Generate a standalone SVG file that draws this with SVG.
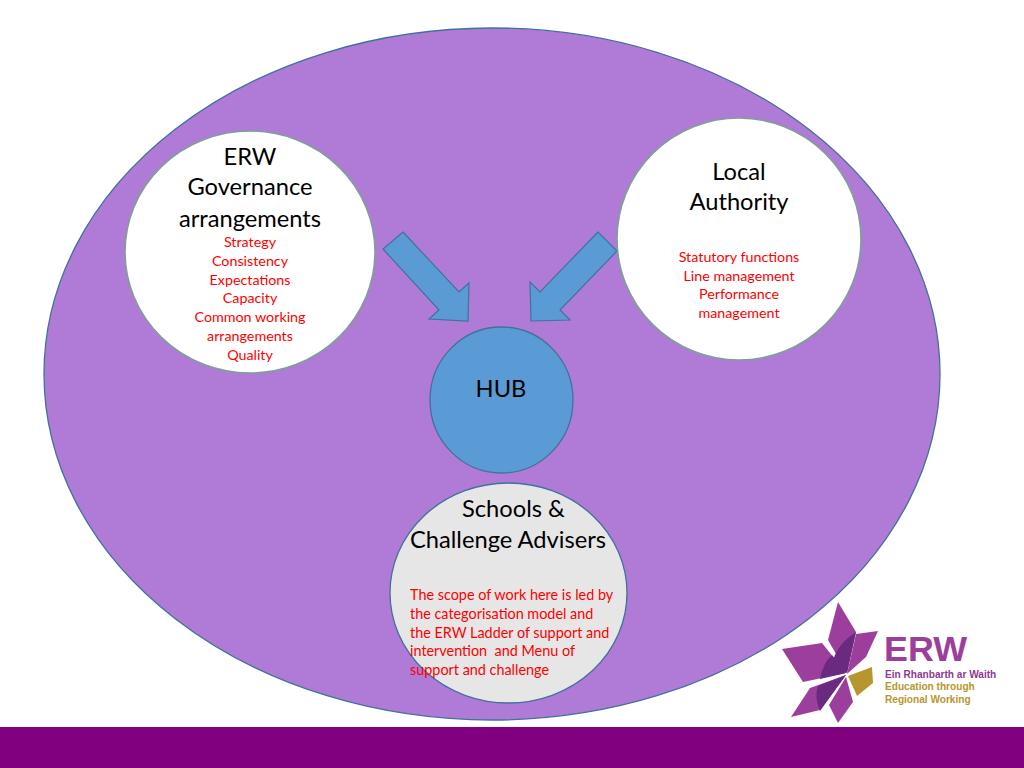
<svg xmlns="http://www.w3.org/2000/svg" width="1024" height="768" viewBox="0 0 1024 768">
<style>
text{font-family:"Lato","Open Sans","Liberation Sans",sans-serif}
.h{font-size:23.7px;fill:#000;text-anchor:middle}
.r{font-size:14.3px;fill:#f00;text-anchor:middle}
.l{font-size:14.4px;fill:#f00}
.s{stroke-width:1.3;stroke:#41719c}
.g{stroke-width:1.6;stroke:#7f9f98}
.arrow{fill:#5b9bd5;stroke:#41719c;stroke-width:1.2}
.p{fill:#9c3f9c}.d{fill:#6a2a80}
.lt{font-family:"Liberation Sans",sans-serif;font-weight:700;font-size:10.1px}
</style>
<rect width="1024" height="768" fill="#fff"/>
<rect id="footer" x="0" y="727" width="1024" height="41" fill="#800080"/>
<g id="outer"><ellipse class="s" cx="492" cy="374" rx="448" ry="346" fill="#af7bd6"/></g>
<g id="connectors">
<polygon class="arrow" points="403,232 459,292 469,283 468,321 429,319 439,310 383,249"/>
<polygon class="arrow" points="598,232 540,292 530,282 531,321 570,320 560,310 617,251"/>
</g>
<g id="governance">
<ellipse class="g" cx="250" cy="252" rx="125" ry="121" fill="#fff"/>
<text class="h" x="250" y="165">ERW</text>
<text class="h" x="250" y="195">Governance</text>
<text class="h" x="250" y="226.500">arrangements</text>
<text class="r" x="250" y="247">Strategy</text>
<text class="r" x="250" y="266">Consistency</text>
<text class="r" x="250" y="285">Expectations</text>
<text class="r" x="250" y="303">Capacity</text>
<text class="r" x="250" y="322">Common working</text>
<text class="r" x="250" y="341">arrangements</text>
<text class="r" x="250" y="360">Quality</text>
</g>
<g id="authority">
<ellipse class="g" cx="739" cy="239" rx="122" ry="121" fill="#fff"/>
<text class="h" x="739" y="180">Local</text>
<text class="h" x="739" y="210">Authority</text>
<text class="r" x="739" y="262">Statutory functions</text>
<text class="r" x="739" y="281">Line management</text>
<text class="r" x="739" y="299">Performance</text>
<text class="r" x="739" y="318">management</text>
</g>
<g id="hub">
<ellipse class="s" cx="501.500" cy="400" rx="71.500" ry="73" fill="#5b9bd5"/>
<text class="h" x="501" y="397">HUB</text>
</g>
<g id="schools">
<ellipse class="s" cx="508.500" cy="593" rx="118.500" ry="110" fill="#e7e6e6"/>
<text class="h" x="513.500" y="516.500">Schools &amp;</text>
<text class="h" x="508" y="547.500">Challenge Advisers</text>
<text class="l" x="410" y="600">The scope of work here is led by</text>
<text class="l" x="410" y="619">the categorisation model and</text>
<text class="l" x="410" y="638">the ERW Ladder of support and</text>
<text class="l" x="410" y="656" xml:space="preserve">intervention  and Menu of</text>
<text class="l" x="410" y="675">support and challenge</text>
</g>
<g id="logo">
<polygon class="p" points="838,602 856,632 847,673 828,640"/>
<path class="d" d="M856,632 L847,673 L832,664 Q836,645 856,632Z"/>
<polygon class="p" points="782,649 822,643 846,673 803,682"/>
<path class="d" d="M832,655 L846,673 L820,679 Q823,663 832,655Z"/>
<polygon class="p" points="878,631 866,657 847,674 856,634"/>
<polygon fill="#b8962e" points="872,667 873,683 857,696 848,676"/>
<polygon class="p" points="791,717 810,688 846,675 820,710"/>
<path class="d" d="M818,686 L846,675 L820,711 Q814,697 818,686Z"/>
<polygon class="p" points="838,723 829,705 846,677 853,702"/>
<text x="884" y="661" style="font-family:'Liberation Sans',sans-serif;font-weight:700;font-size:35px;fill:#9c3f9c" textLength="83" lengthAdjust="spacingAndGlyphs">ERW</text>
<text class="lt" x="885" y="677.500" fill="#8e3a92">Ein Rhanbarth ar Waith</text>
<text class="lt" x="885" y="690" fill="#b8962e">Education through</text>
<text class="lt" x="885" y="702.500" fill="#b8962e">Regional Working</text>
</g>
</svg>
